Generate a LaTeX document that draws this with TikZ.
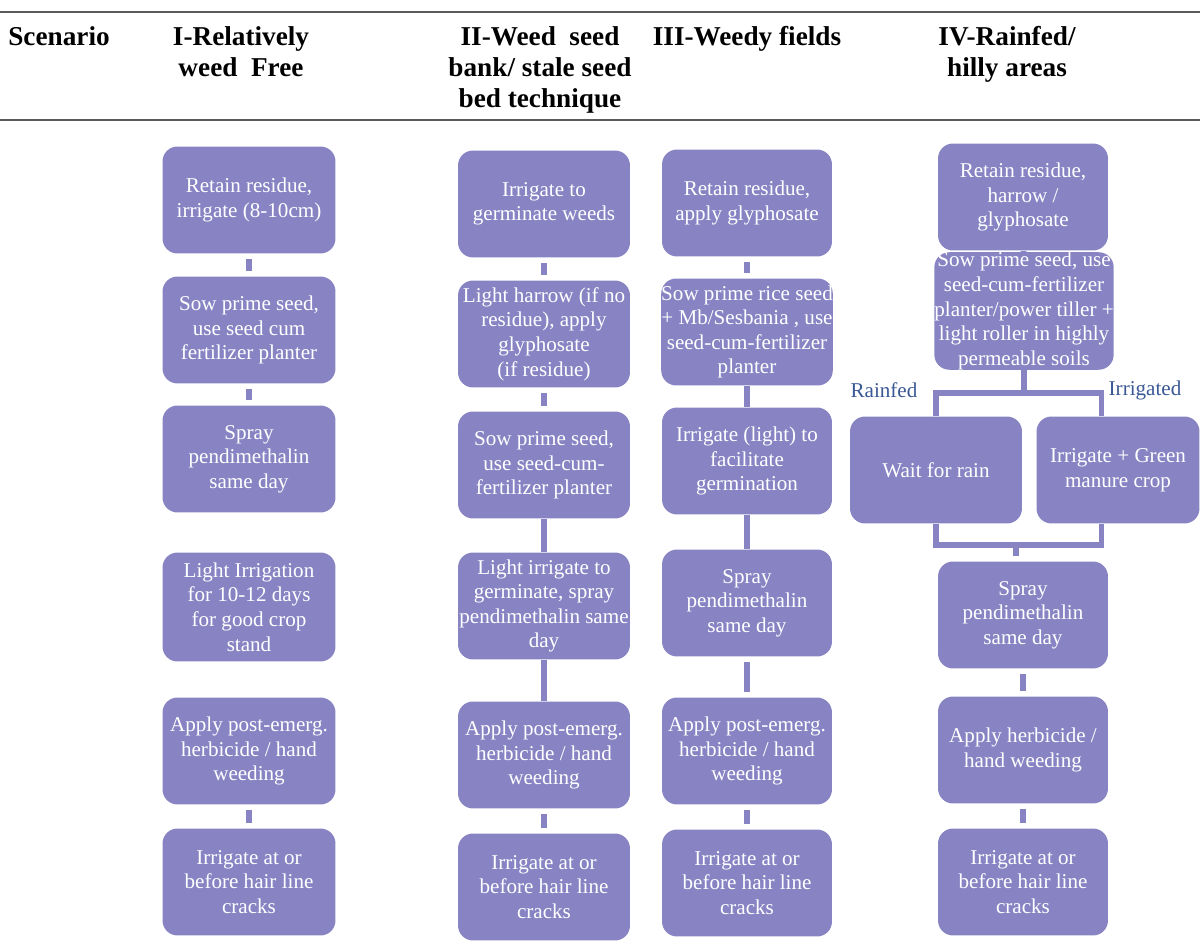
\documentclass[tikz,border=0pt]{standalone}
\usepackage{fontspec}
\setmainfont{Liberation Serif}
\definecolor{boxpurple}{RGB}{136,132,196}
\definecolor{branchblue}{RGB}{58,88,150}
\definecolor{rulegray}{RGB}{90,90,90}

\begin{document}
\begin{tikzpicture}[x=0.02cm,y=-0.02cm,
  stepbox/.style={rectangle,rounded corners=0.3cm,fill=boxpurple,text=white,
    minimum height=2.14cm,align=center,inner xsep=0pt,inner ysep=2pt,
    font=\fontsize{12}{14}\selectfont},
  link/.style={draw=boxpurple,line width=3.2pt},
  stub/.style={link,shorten <=0.1cm,shorten >=0.1cm},
  head/.style={font=\bfseries\fontsize{15.5}{17.6}\selectfont,align=center,
    anchor=north,inner sep=0pt},
  branch/.style={text=branchblue,font=\fontsize{12}{14}\selectfont}]
\useasboundingbox[fill=white] (0,0) rectangle (1200,945);

% header
\draw[rulegray,line width=1.5pt] (0,12) -- (1200,12);
\draw[rulegray,line width=1.5pt] (0,120) -- (1200,120);
\node[head,anchor=north west] (hscen) at (8,26) {Scenario};
\node[head] (hone) at (241,26) {I-Relatively\\ weed~~Free};
\node[head] (htwo) at (540,26) {II-Weed~~seed\\ bank/ stale seed\\ bed technique};
\node[head] (hthree) at (747,26) {III-Weedy fields};
\node[head] (hfour) at (1007,26) {IV-Rainfed/\\ hilly areas};

% I - relatively weed free
\node[stepbox,minimum width=3.46cm] (a1) at (249,200) {Retain residue,\\ irrigate (8-10cm)};
\node[stepbox,minimum width=3.46cm] (a2) at (249,330) {Sow prime seed,\\ use seed cum\\ fertilizer planter};
\node[stepbox,minimum width=3.46cm] (a3) at (249,459) {Spray\\ pendimethalin\\ same day};
\node[stepbox,minimum width=3.46cm,minimum height=2.18cm] (a4) at (249,607) {Light Irrigation\\ for 10-12 days\\ for good crop\\ stand};
\node[stepbox,minimum width=3.46cm] (a5) at (249,751) {Apply post-emerg.\\ herbicide / hand\\ weeding};
\node[stepbox,minimum width=3.46cm] (a6) at (249,882) {Irrigate at or\\ before hair line\\ cracks};
\draw[stub] (a1) -- (a2);
\draw[stub] (a2) -- (a3);
\draw[stub] (a5) -- (a6);

% II - weed seed bank
\node[stepbox,minimum width=3.44cm] (b1) at (544,204) {Irrigate to\\ germinate weeds};
\node[stepbox,minimum width=3.44cm] (b2) at (544,334) {Light harrow (if no\\ residue), apply\\ glyphosate\\ (if residue)};
\node[stepbox,minimum width=3.44cm] (b3) at (544,465) {Sow prime seed,\\ use seed-cum-\\ fertilizer planter};
\node[stepbox,minimum width=3.44cm] (b4) at (544,606) {Light irrigate to\\ germinate, spray\\ pendimethalin same\\ day};
\node[stepbox,minimum width=3.44cm] (b5) at (544,755) {Apply post-emerg.\\ herbicide / hand\\ weeding};
\node[stepbox,minimum width=3.44cm] (b6) at (544,887) {Irrigate at or\\ before hair line\\ cracks};
\draw[stub] (b1) -- (b2);
\draw[stub] (b2) -- (b3);
\draw[link] (b3) -- (b4);
\draw[link] (b4) -- (b5);
\draw[stub] (b5) -- (b6);

% III - weedy fields
\node[stepbox,minimum width=3.40cm] (c1) at (747,203) {Retain residue,\\ apply glyphosate};
\node[stepbox,minimum width=3.40cm] (c2) at (747,332) {Sow prime rice seed\\ + Mb/Sesbania , use\\ seed-cum-fertilizer\\ planter};
\node[stepbox,minimum width=3.40cm] (c3) at (747,461) {Irrigate (light) to\\ facilitate\\ germination};
\node[stepbox,minimum width=3.40cm] (c4) at (747,603) {Spray\\ pendimethalin\\ same day};
\node[stepbox,minimum width=3.40cm] (c5) at (747,751) {Apply post-emerg.\\ herbicide / hand\\ weeding};
\node[stepbox,minimum width=3.40cm] (c6) at (747,883) {Irrigate at or\\ before hair line\\ cracks};
\draw[stub] (c1) -- (c2);
\draw[link] (c2) -- (c3);
\draw[link] (c3) -- (c4);
\draw[stub] (c4) -- (c5);
\draw[stub] (c5) -- (c6);

% IV - rainfed / hilly areas
\node[stepbox,minimum width=3.40cm] (d1) at (1023,197) {Retain residue,\\ harrow /\\ glyphosate};
\node[stepbox,minimum width=3.44cm,minimum height=2.28cm,inner ysep=0pt] (d2) at (1024,311) {Sow prime seed, use\\ seed-cum-fertilizer\\ planter/power tiller +\\ light roller in highly\\ permeable soils};
\node[stepbox,minimum width=3.44cm] (rain) at (936,470) {Wait for rain};
\node[stepbox,minimum width=3.26cm] (green) at (1118,470) {Irrigate + Green\\ manure crop};
\node[stepbox,minimum width=3.40cm] (d3) at (1023,615) {Spray\\ pendimethalin\\ same day};
\node[stepbox,minimum width=3.40cm] (d4) at (1023,750) {Apply herbicide /\\ hand weeding};
\node[stepbox,minimum width=3.40cm] (d5) at (1023,882) {Irrigate at or\\ before hair line\\ cracks};
\node[branch] (lrain) at (884,390) {Rainfed};
\node[branch] (lirr) at (1145,390) {Irrigated};
\coordinate (split) at (1016,393);
\coordinate (join) at (1016,545);
\draw[link] (d1) -- (d2);
\draw[link] (d2.south) -- (d2.south |- split);
\draw[link] (rain.north) |- (split) -| ([xshift=-0.33cm]green.north);
\draw[link] (rain.south) |- (join) -| ([xshift=-0.33cm]green.south);
\draw[link,shorten <=0.06cm,shorten >=0.1cm] (join) -- (join |- d3.north);
\draw[stub] (d3) -- (d4);
\draw[stub] (d4) -- (d5);

\end{tikzpicture}
\end{document}
